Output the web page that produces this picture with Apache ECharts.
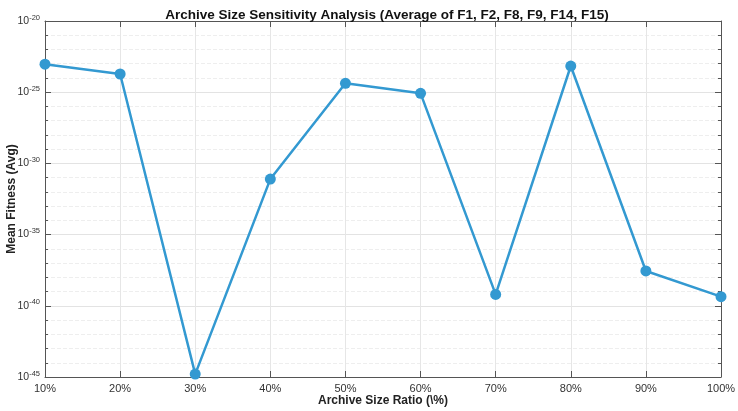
<!DOCTYPE html>
<html>
<head>
<meta charset="utf-8">
<script src="https://cdn.jsdelivr.net/npm/echarts@6/dist/echarts.min.js"></script>
<style>
html,body{margin:0;padding:0;background:#fff;}
#chart{width:738px;height:411px;}
</style>
</head>
<body>
<div id="chart"></div>
<script>
var ratios = ['10%','20%','30%','40%','50%','60%','70%','80%','90%','100%'];
var fitness = [9.3e-24, 1.9e-24, 1.6e-45, 7.9e-32, 4.2e-25, 8.3e-26, 6.3e-40, 6.9e-24, 2.8e-38, 4.4e-40];

var myChart = echarts.init(document.getElementById('chart'));
var axisCol = '#555';
var font = 'Liberation Sans, Arial, sans-serif';

// the log axis does not cope with such tiny numbers, so plot the exponent
var logFitness = fitness.map(function(v){ return Math.log(v) / Math.LN10; });

function expLabel(e){
	return '10{sup|' + Math.round(e) + '}';
}

var yCommon = {
	type:'value', min:-45, max:-20, interval:5,
	axisLine:{show:true, lineStyle:{color:axisCol}},
	axisTick:{show:true, inside:true, length:6, lineStyle:{color:axisCol}},
	minorTick:{show:true, splitNumber:5, length:3, lineStyle:{color:axisCol}}
};

var option = {
	animation:false,
	title:{
		text:'Archive Size Sensitivity Analysis (Average of F1, F2, F8, F9, F14, F15)',
		left:382, top:3, textAlign:'center',
		textStyle:{fontFamily:font, fontSize:13.5, fontWeight:'bold', color:'#111'}
	},
	grid:{left:45, right:17, top:21, bottom:34, containLabel:false, outerBoundsMode:'none'},
	xAxis:[
		{
			type:'category', data:ratios, boundaryGap:false,
			name:'Archive Size Ratio (\\%)', nameLocation:'middle', nameGap:18, nameMoveOverlap:false,
			nameTextStyle:{fontFamily:font, fontSize:12, fontWeight:'bold', color:'#222'},
			axisLine:{lineStyle:{color:axisCol}},
			axisTick:{inside:true, length:6, lineStyle:{color:axisCol}},
			axisLabel:{fontFamily:font, fontSize:11, color:'#333', margin:6},
			splitLine:{show:true, lineStyle:{color:'#e6e6e6'}}
		},
		{
			type:'category', data:ratios, boundaryGap:false, position:'top',
			axisLine:{lineStyle:{color:axisCol}},
			axisTick:{inside:true, length:6, lineStyle:{color:axisCol}},
			axisLabel:{show:false}, splitLine:{show:false}
		}
	],
	yAxis:[
		echarts.util.merge({
			name:'Mean Fitness (Avg)', nameLocation:'middle', nameGap:27, nameMoveOverlap:false,
			nameTextStyle:{fontFamily:font, fontSize:12, fontWeight:'bold', color:'#222'},
			axisLabel:{
				fontFamily:font, fontSize:10.5, color:'#333', margin:5,
				formatter:expLabel,
				rich:{sup:{fontFamily:font, fontSize:7.5, color:'#333', verticalAlign:'top', padding:[0,0,7,0]}}
			},
			splitLine:{show:true, lineStyle:{color:'#e3e3e3'}},
			minorSplitLine:{show:true, lineStyle:{color:'#eeeeee', type:'dashed'}}
		}, yCommon),
		echarts.util.merge({
			position:'right',
			axisLabel:{show:false}, splitLine:{show:false}
		}, yCommon)
	],
	series:[
		{
			type:'line', data:logFitness,
			symbol:'circle', symbolSize:11,
			lineStyle:{color:'#3399d1', width:2.5},
			itemStyle:{color:'#3399d1'}
		}
	]
};
myChart.setOption(option);
</script>
</body>
</html>
